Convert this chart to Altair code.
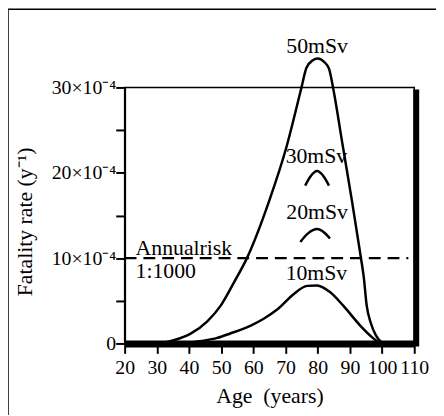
import altair as alt
import pandas as pd

# ---- data ----
age_50 = [27, 32, 35.5, 40.5, 45.7, 49.8, 53.9, 58, 65, 70.2, 74.9, 76.5, 78.5, 80, 82, 83.5, 85, 87.5, 90.6, 93.4, 94.3, 95.2, 96.5, 98, 99.5, 100.5]
rate_50 = [0, 0.1, 0.4, 1.15, 2.6, 4.4, 7.1, 10, 16.8, 22.9, 29.9, 32.3, 33.2, 33.4, 33.0, 32.2, 29.5, 23.8, 16.8, 10.1, 7.8, 4.5, 2.4, 1.0, 0.25, 0]

age_10 = [33, 40, 44, 48.8, 53, 56, 59.2, 63.2, 67.5, 72.6, 76.7, 79.8, 83.9, 88, 93.2, 97.3, 99.5]
rate_10 = [0, 0.1, 0.3, 0.65, 1.2, 1.6, 2.1, 2.9, 4.0, 5.8, 6.75, 6.8, 6.0, 4.4, 2.1, 0.6, 0]

age_20 = [74.6, 77, 79.8, 82, 83.8]
rate_20 = [11.9, 12.9, 13.4, 13.0, 12.3]

age_30 = [76.1, 77.8, 79.8, 81.8, 83.5]
rate_30 = [18.5, 19.6, 20.2, 19.6, 18.5]

label_text = ["50mSv", "30mSv", "20mSv", "10mSv"]
label_age = [79.8, 79.6, 79.8, 79.6]
label_rate = [34.8, 22.0, 15.4, 8.3]

risk_text = ["Annualrisk", "1:1000"]
risk_age = [23.4, 23.4]
risk_rate = [11.2, 8.45]

annual_risk = 10
x_ticks = [20, 30, 40, 50, 60, 70, 80, 90, 100, 110]
y_ticks = [0, 5, 10, 15, 20, 25, 30]

W, H = 293, 259
SERIF = "Liberation Serif"

rows = []
for name, a, r in [("50mSv", age_50, rate_50), ("10mSv", age_10, rate_10),
                   ("20mSv", age_20, rate_20), ("30mSv", age_30, rate_30)]:
    for i, (ai, ri) in enumerate(zip(a, r)):
        rows.append({"series": name, "age": ai, "rate": ri, "order": i})
curves_df = pd.DataFrame(rows)

xs = alt.Scale(domain=[20, 110], nice=False, zero=False)
ys = alt.Scale(domain=[0, 30], nice=False)

x_axis = alt.Axis(
    values=x_ticks, title="Age\u2002(years)", grid=False, labelOverlap=False,
    domainColor="black", domainWidth=7, tickColor="black", tickWidth=2, tickSize=10,
    labelPadding=4, labelFont=SERIF, labelFontSize=20, labelColor="black",
    titleFont=SERIF, titleFontSize=22, titleFontWeight="normal", titleColor="black",
    titleY=53, titleBaseline="middle", labelFlush=False)
y_axis = alt.Axis(
    values=y_ticks, title="Fatality rate (y\u207b\u00b9)", grid=False, labelOverlap=False,
    labelExpr="datum.value == 0 ? '0' : (datum.value % 10 == 0 ? datum.value + '×10\u207b\u2074' : '')",
    domainColor="black", domainWidth=2, tickColor="black", tickWidth=2, tickSize=9,
    labelPadding=0, labelFont=SERIF, labelFontSize=20, labelColor="black",
    titleFont=SERIF, titleFontSize=22, titleFontWeight="normal", titleColor="black",
    titleX=-101, titleY=H / 2 + 6, titleBaseline="middle", labelFlush=False)


def X(field):
    return alt.X(field, scale=xs, axis=x_axis)


def Y(field):
    return alt.Y(field, scale=ys, axis=y_axis)


one = pd.DataFrame({"a": [0]})

frame = alt.Chart(one).mark_rect(filled=False, stroke="black", strokeWidth=1.5).encode(
    x=alt.value(-118), x2=alt.value(W + 60), y=alt.value(-79), y2=alt.value(H + 120)
)

curves = alt.Chart(curves_df).mark_line(
    color="black", strokeWidth=2.5, interpolate="monotone", clip=False
).encode(
    x=X("age:Q"),
    y=Y("rate:Q"),
    detail="series:N",
    order="order:Q",
)

risk_df = pd.DataFrame({"rate": [annual_risk]})
dashed = alt.Chart(risk_df).mark_rule(color="black", strokeWidth=2.5, strokeDash=[12, 7]).encode(
    y=Y("rate:Q"), x=alt.value(0), x2=alt.value(W - 6)
)

right_border = alt.Chart(one).mark_rule(color="black", strokeWidth=6).encode(
    x=alt.value(W + 2), y=alt.value(2), y2=alt.value(H + 3)
)

labels_df = pd.DataFrame({"t": label_text, "age": label_age, "rate": label_rate})
labels = alt.Chart(labels_df).mark_text(
    font=SERIF, fontSize=22, color="black", align="center", baseline="middle"
).encode(x=X("age:Q"), y=Y("rate:Q"), text="t:N")

risk_lab_df = pd.DataFrame({"t": risk_text, "age": risk_age, "rate": risk_rate})
risk_labels = alt.Chart(risk_lab_df).mark_text(
    font=SERIF, fontSize=22, color="black", align="left", baseline="middle"
).encode(x=X("age:Q"), y=Y("rate:Q"), text="t:N")

chart = alt.layer(frame, curves, dashed, right_border, labels, risk_labels).properties(
    width=W, height=H,
    autosize=alt.AutoSizeParams(type="none"),
    padding={"left": 118, "top": 78, "right": 22, "bottom": 70},
    background="white",
).configure_view(stroke="black", strokeWidth=1.5).configure_axis(labelOverlap=False)

chart.save("out.html", embed_options={"renderer": "svg", "actions": False})
